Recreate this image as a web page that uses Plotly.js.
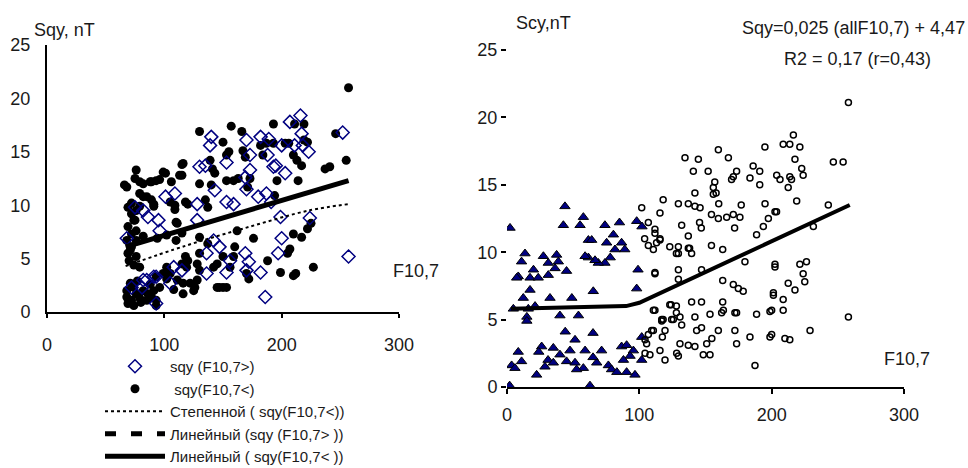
<!DOCTYPE html>
<html>
<head>
<meta charset="utf-8">
<script src="https://cdn.plot.ly/plotly-3.0.1.min.js"></script>
<style>html,body{margin:0;padding:0;background:#fff;}</style>
</head>
<body>
<div id="chart" style="width:968px;height:468px;"></div>
<script>
// ---- Left panel: sqy vs F10,7 ----
const leftLowPts = [[257,21.0],[255,14.2],[246,16.7],[237,13.4],[241,13.6],[227,4.2],[210,3.4],[212,3.6],[199,3.7],[188,4.8],[210,7.3],[217,7.0],[222,7.8],[225,8.3],[207,5.9],[205,5.5],[194,10.9],[196,12.3],[193,17.6],[211,17.6],[219,17.6],[203,15.8],[206,15.8],[219,16.1],[222,15.9],[210,14.7],[213,14.2],[217,13.7],[214,12.3],[182,15.6],[187,15.8],[184,14.7],[193,15.8],[167,15.1],[169,14.5],[166,16.9],[157,17.4],[153,14.7],[155,15.0],[150,15.9],[130,16.9],[139,14.2],[141,13.4],[143,13.0],[153,12.3],[159,12.3],[163,12.5],[173,12.5],[171,11.7],[140,11.9],[130,12.0],[116,13.9],[115,12.8],[106,12.2],[99,13.1],[105,10.3],[109,10.0],[118,10.3],[120,10.1],[135,10.5],[137,9.8],[110,8.4],[130,7.0],[137,6.4],[110,6.7],[130,5.5],[128,4.5],[162,7.6],[160,6.1],[159,5.2],[176,6.9],[170,3.6],[172,3.1],[150,5.2],[156,4.2],[142,4.2],[145,4.5],[147,2.3],[150,2.3],[153,2.3],[145,2.3],[130,3.9],[128,3.0],[126,2.3],[122,2.7],[125,2.0],[115,4.5],[120,4.8],[116,1.7],[102,4.2],[99,3.6],[102,3.1],[93,3.3],[96,2.3],[91,2.0],[93,1.1],[93,0.6],[68,1.4],[72,1.1],[76,1.7],[79,1.3],[82,2.0],[86,1.7],[71,2.7],[74,2.3],[68,2.0],[69,0.8],[74,0.6],[85,1.1],[89,1.4],[77,2.9],[80,0.9],[88,2.6],[68,11.7],[76,13.3],[75,12.5],[82,12.0],[88,12.2],[93,12.3],[85,10.8],[89,10.5],[91,10.1],[79,11.1],[69,9.8],[72,9.2],[76,9.5],[74,8.6],[69,8.0],[72,7.3],[76,7.6],[68,6.7],[72,6.1],[76,6.7],[69,5.5],[70,4.8],[74,4.4],[79,4.2],[72,10.2],[79,9.9],[66,11.9],[79,12.2],[89,12.2],[96,12.4],[101,13.0],[115,13.8],[113,12.8],[82,10.8],[91,9.9],[109,9.6],[111,8.3],[75,8.6],[82,7.1],[94,6.9],[102,7.2],[115,7.4],[71,5.8],[76,5.2],[119,4.2],[118,5.2],[105,3.6],[111,3.0],[116,2.7],[108,2.1]];
const leftHighPts = [[252,16.8],[257,5.2],[186,1.4],[182,3.7],[197,5.5],[200,6.9],[199,8.9],[191,10.3],[187,11.1],[193,13.6],[203,13.0],[207,17.8],[216,18.4],[217,16.7],[200,15.6],[211,15.6],[218,15.6],[223,15.0],[182,16.4],[189,16.2],[188,14.7],[195,13.7],[170,16.1],[173,14.7],[153,14.0],[140,16.4],[139,15.6],[130,13.6],[135,13.7],[169,12.6],[173,13.3],[170,11.5],[143,11.4],[101,10.8],[109,11.1],[128,10.1],[153,10.3],[159,10.1],[128,8.6],[95,8.6],[96,7.6],[142,6.7],[147,6.1],[136,5.5],[169,5.5],[172,4.7],[170,3.9],[156,4.8],[153,3.7],[136,3.6],[108,4.2],[105,2.7],[115,3.9],[93,3.3],[85,3.0],[82,9.5],[86,8.9],[75,9.8],[68,6.9],[82,3.0],[91,3.3],[81,2.3],[72,2.3],[93,0.8],[224,8.8],[180,10.8]];
const powerLineX = [67, 118, 170, 223, 257];
const powerLineY = [4.3, 6.2, 7.9, 9.5, 10.1];
const linLowX = [67, 257];
const linLowY = [6.1, 12.3];

// ---- Right panel: Scy vs F10,7 (all) ----
const rightLowPts = [[43.8,13.4],[57.7,12.6],[2.3,11.8],[42.6,12.0],[55.2,12.0],[74,12.0],[85,12.2],[98,12.3],[61.5,10.9],[64,10.9],[75.3,10.7],[80.4,11.3],[86.6,10.7],[81.6,10.2],[89,10.2],[78,9.6],[74,9.2],[69,9.2],[66.5,9.4],[61.5,9.6],[59,9.7],[13.6,9.9],[11,9.3],[8.5,8.2],[27.5,9.7],[31.2,9.2],[37.5,9.8],[38.8,9.3],[36.3,8.8],[45,8.6],[20,8.7],[17.4,8.1],[23.6,8.1],[7.3,8.1],[31.2,8.3],[17.4,7.2],[12.3,6.6],[32.5,6.6],[49,6.6],[65.2,7.1],[99,8.7],[98,7.3],[4.8,5.8],[16.1,5.8],[21.2,6.0],[15,5.2],[15,4.9],[40,5.3],[54,5.3],[44,4.1],[65,4.0],[51.4,3.5],[8.5,2.6],[26.2,3.0],[35,2.9],[47.6,2.7],[59,2.7],[71.5,2.7],[86.6,3.0],[90.4,3.1],[95.5,2.7],[3.5,1.6],[6,1.4],[11,1.9],[31,2.0],[35,1.8],[28.7,1.5],[45,1.9],[51.4,1.8],[57.7,1.4],[52.6,1.3],[67.8,1.8],[76.6,1.6],[79,1.3],[83,1.1],[90.4,1.1],[96.7,0.9],[93,2.3],[22.4,0.9],[101.8,2.0],[101.8,3.7],[2,0.1],[62.7,0.1],[24,2.6],[40,2.4],[65,2.2],[88,2.0],[102,11.9]];
const rightHighPts = [[159.7,17.6],[194.9,17.8],[134.5,17.0],[144.6,16.9],[167.3,17.0],[140.8,16.0],[152,16.0],[173.5,16.0],[186,16.4],[191,16.0],[183.6,15.5],[191,15.0],[169.7,15.4],[171,15.6],[155.9,14.8],[155.9,14.3],[142,14.4],[118,13.9],[129.5,13.6],[137,13.6],[142,13.4],[145.9,13.3],[101.8,13.3],[115.6,12.9],[106.8,12.2],[132,12.0],[145.5,12.2],[146.8,11.8],[154.5,12.8],[159.7,12.5],[166,12.6],[171,12.8],[176,12.6],[177,13.5],[195,13.6],[203.7,13.0],[197.5,12.5],[193.7,11.9],[172,11.8],[188.6,11.3],[137,11.2],[111.8,11.4],[115.6,10.9],[104,11.0],[106.8,10.5],[110.6,10.2],[123,10.4],[129.5,10.4],[129.5,9.9],[137,10.3],[139.5,9.9],[154.5,10.5],[163,10.2],[179.8,9.3],[202.5,8.9],[129.5,8.7],[111.8,8.5],[129.5,8.0],[147,8.7],[163,7.9],[171,7.6],[174.8,7.3],[178.5,7.1],[201.3,6.8],[139.5,6.3],[147,6.3],[163,6.3],[111.8,5.7],[124,6.1],[128,6.0],[130.7,5.2],[142,5.2],[153.4,5.4],[162.2,5.5],[163.5,5.7],[173.5,5.5],[188.6,5.4],[198.7,5.6],[116.9,5.0],[118,5.0],[125.7,5.0],[132,4.6],[172.2,5.5],[109.3,4.2],[119.4,4.2],[143.3,4.2],[147,4.4],[159.7,4.2],[172.2,4.2],[183.6,3.7],[198.7,3.7],[117.4,3.7],[105.5,3.2],[106.8,3.9],[130.7,3.2],[137,3.1],[142,3.0],[150.9,3.2],[154.8,3.6],[173.5,3.2],[115.6,2.7],[128.2,2.5],[129.5,2.3],[148.3,2.4],[153.4,2.4],[104.3,2.5],[108,2.4],[119.4,2.0],[187.4,1.6],[258,21.1],[216.4,18.7],[208.7,18.0],[213.7,18.0],[221.3,17.8],[246.6,16.7],[254,16.7],[217.6,16.9],[222.7,16.2],[203.8,15.7],[213.7,15.6],[223.8,15.7],[206.3,15.4],[215,15.4],[212.5,14.8],[218.9,13.8],[242.8,13.5],[202.5,13.0],[231.5,11.9],[202.5,9.1],[221.3,9.1],[226.3,9.3],[223.8,8.4],[225,7.8],[212.5,7.7],[217.6,7.2],[201.3,7.0],[208.7,6.5],[200,5.7],[208.7,5.7],[258,5.2],[229,4.2],[200,3.9],[210,3.6],[213.7,3.5],[113,10.7],[115.6,11.0],[111.8,11.7],[128,9.9],[138,10.3],[111.8,8.4],[110.6,5.7],[123,6.1],[128,5.5],[116.9,4.9],[124.4,5.0],[110.6,4.2],[104.3,3.5],[157,15.2],[158,14.4],[160,13.6]];
const allLineX = [3, 40, 90, 100, 259];
const allLineY = [5.8, 5.9, 6.0, 6.25, 13.5];

const xTicks = [0, 100, 200, 300];
const yTicks = [0, 5, 10, 15, 20, 25];
const legendNames = ['sqy (F10,7>)', ' sqy(F10,7<)', 'Степенной ( sqy(F10,7<))', 'Линейный (sqy (F10,7> ))', 'Линейный ( sqy(F10,7< ))'];

const FONT = 'Liberation Sans, Arial, sans-serif';
const TXT = '#1a1a1a';
const col = (pts, i) => pts.map(p => p[i]);

const traces = [
  {x: col(leftLowPts,0), y: col(leftLowPts,1), type:'scatter', mode:'markers', name: legendNames[1], legendrank: 2,
   marker:{symbol:'circle', size:9, color:'#000000'}, xaxis:'x', yaxis:'y'},
  {x: col(leftHighPts,0), y: col(leftHighPts,1), type:'scatter', mode:'markers', name: legendNames[0], legendrank: 1,
   marker:{symbol:'diamond-open', size:10, color:'#000080', line:{width:1.5, color:'#000080'}}, xaxis:'x', yaxis:'y'},
  {x: powerLineX, y: powerLineY, type:'scatter', mode:'lines', name: legendNames[2], legendrank: 3, line:{shape:'spline', color:'#000000', width:2, dash:'dot'}, xaxis:'x', yaxis:'y'},
  {x: [null], y: [null], type:'scatter', mode:'lines', name: legendNames[3], legendrank: 4, line:{color:'#000000', width:5, dash:'11px,15px'}, xaxis:'x', yaxis:'y'},
  {x: linLowX, y: linLowY, type:'scatter', mode:'lines', name: legendNames[4], legendrank: 5, line:{color:'#000000', width:5}, xaxis:'x', yaxis:'y'},
  {x: col(rightLowPts,0), y: col(rightLowPts,1), type:'scatter', mode:'markers', showlegend:false,
   marker:{symbol:'triangle-up', size:9, color:'#000080', line:{width:1, color:'#000000'}}, xaxis:'x2', yaxis:'y2'},
  {x: col(rightHighPts,0), y: col(rightHighPts,1), type:'scatter', mode:'markers', showlegend:false,
   marker:{symbol:'circle-open', size:6, color:'#000000', line:{width:1.5, color:'#000000'}}, xaxis:'x2', yaxis:'y2'},
  {x: allLineX, y: allLineY, type:'scatter', mode:'lines', showlegend:false, line:{color:'#000000', width:4}, xaxis:'x2', yaxis:'y2'}
];

const W = 968, H = 468;
const px = v => v / W, py = v => (H - v) / H;

const layout = {
  width: W, height: H, autosize:false,
  margin:{l:0, r:0, t:0, b:0, pad:0, autoexpand:false},
  paper_bgcolor:'#ffffff', plot_bgcolor:'#ffffff',
  font:{family: FONT, size:18, color: TXT},
  showlegend: true,
  legend:{x: px(100), y: py(350), xanchor:'left', yanchor:'top', bgcolor:'rgba(0,0,0,0)',
          font:{family: FONT, size:15, color: TXT}, itemwidth: 60, tracegroupgap:0, borderwidth:0},
  xaxis:{domain:[px(47), px(399)], range:[0,300], tickvals: xTicks, ticks:'outside', ticklen:4, tickwidth:2, tickcolor:'#000',
         showline:true, linewidth:2, linecolor:'#000', showgrid:false, zeroline:false, ticklabelstandoff:11, anchor:'y', fixedrange:true},
  yaxis:{domain:[py(312), py(45)], range:[0,25], tickvals: yTicks, ticks:'', showline:true, linewidth:2, linecolor:'#000',
         showgrid:false, zeroline:false, ticklabelstandoff:11, anchor:'x', fixedrange:true},
  xaxis2:{domain:[px(507), px(904)], range:[0,300], tickvals: xTicks, ticks:'outside', ticklen:5, tickwidth:2, tickcolor:'#000',
         showline:true, linewidth:2, linecolor:'#000', showgrid:false, zeroline:false, ticklabelstandoff:5, anchor:'y2', fixedrange:true},
  yaxis2:{domain:[py(387), py(50)], range:[0,25], tickvals: yTicks, ticks:'outside', ticklen:5, tickwidth:2, tickcolor:'#000',
         showline:false, showgrid:false, zeroline:false, ticklabelstandoff:0, anchor:'x2', fixedrange:true},
  annotations:[
    {text:'Sqy, nT', xref:'paper', yref:'paper', x:px(32), y:py(30), xanchor:'left', yanchor:'middle', showarrow:false},
    {text:'F10,7', xref:'paper', yref:'paper', x:px(391), y:py(271), xanchor:'left', yanchor:'middle', showarrow:false},
    {text:'Scy,nT', xref:'paper', yref:'paper', x:px(514), y:py(23), xanchor:'left', yanchor:'middle', showarrow:false},
    {text:'F10,7', xref:'paper', yref:'paper', x:px(882), y:py(359), xanchor:'left', yanchor:'middle', showarrow:false},
    {text:'Sqy=0,025 (allF10,7) + 4,47', xref:'paper', yref:'paper', x:px(967), y:py(28), xanchor:'right', yanchor:'middle', showarrow:false},
    {text:'R2 = 0,17 (r=0,43)', xref:'paper', yref:'paper', x:px(857), y:py(59), xanchor:'center', yanchor:'middle', showarrow:false}
  ]
};

Plotly.newPlot('chart', traces, layout, {displayModeBar:false, staticPlot:true});
</script>
</body>
</html>
